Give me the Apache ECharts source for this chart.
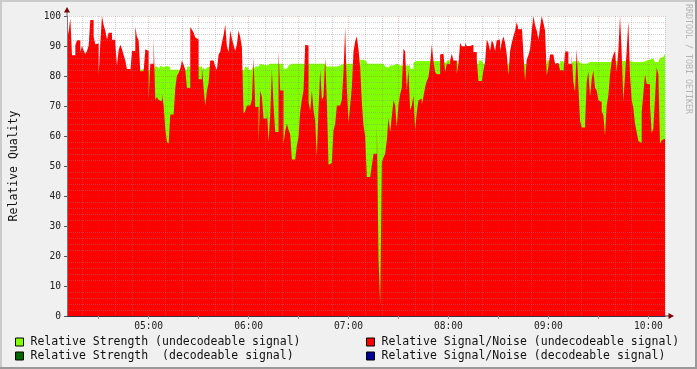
<!DOCTYPE html>
<html><head><meta charset="utf-8">
<script src="https://cdn.jsdelivr.net/npm/echarts@6/dist/echarts.min.js"></script>
<style>html,body{margin:0;padding:0;background:#F0F0F0}#c{width:697px;height:369px}</style>
</head><body><div id="c"></div>
<script>
// ---- data ----
const startTime = '04:11';           // first sample, one sample per minute
const hourLabels = ['05:00', '06:00', '07:00', '08:00', '09:00', '10:00'];
const seriesNames = [
  'Relative Strength (undecodeable signal)',
  'Relative Signal/Noise (undecodeable signal)',
  'Relative Strength  (decodeable signal)',
  'Relative Signal/Noise (decodeable signal)'
];
const seriesColors = ['#80FF00', '#FF0000', '#006600', '#000099'];

const strengthUndecodeable = [
  82,82,82,82,82,82,82,82,82,82, 82,82,82,82,82,82,82,82,82,82,
  82,82,82,82,82,82,82,82,82,82, 82,82,82,82,82,82,82.3,82.3,82,82,
  82,82,82,82,82.3,82.3,82.3,82,82,82, 82,82,82,83.3,82.8,82,83.3,83,83,83.3,

  83.2,83,82.1,82.1,82.1,82.1,82.1,82.1,82,82, 82,82,83.2,83.2,82,82,82,82,82,83.2,
  83.2,82,82.8,82.1,82.8,83.2,82,82,82,82, 82,82,82,82,82,82,82,82,82,82,
  82,82,82,82,82,82,81.3,83.2,82.8,82.1, 82.1,83.2,82,83.2,83.2,83,84,83.8,83.5,83.5,

  84.1,84.1,84.1,84.1,84.1,84.1,84.1,84.1,84.1,84.1, 82.4,82.4,83,83.5,84.1,84.1,84.1,84.1,84.1,84.1,
  84.1,84.1,84.1,84.1,84.1,84.1,84.1,84.1,84.1,84.1, 84.1,84.1,84.1,84.1,84.1,84,83.2,83.2,83.2,83.2,
  83.2,83.2,83.5,83.5,83.5,84.1,84.1,84.1,84.1,84.1, 84.1,84.1,84,84,84,84,85.4,85.4,84.8,84.8,

  84.1,84.1,84.1,84.1,84.1,84.1,84.1,84.1,84.1,84.1, 84.1,83.2,82.8,82.8,83.5,83.5,84.1,84.1,83.5,83.5,
  83.5,83.5,83.5,83.5,83.5,83.5,82.4,82.4,84.5,85, 85,85,85,85,85,85,85,85,85,85,
  85,85,85,85,84.5,84.5,84.5,84.5,85.2,85.2, 84.5,84.5,84.5,84.5,85.2,84,84,84,84,84,

  84,84,84,84,84,84,84,85.2,85.2,84.7, 84.1,84,84,84,84,84,84,84,84,84,
  84,84,84,84,84,84.3,84,84,84,84, 84,84,84,84,84,84.1,84,84,84,84,
  84,84,84,84,84,84,84,84,85.2,85, 84,84,84,84,84,84,84.9,84.9,84.9,84,

  84,84,84,84,84.9,84.9,84,85.2,84.3,84.1, 84.1,84.1,84.7,84.7,84.7,84.7,84.7,84.7,84.7,84.7,
  84.7,84.7,84.7,84.7,84.7,84.7,85.2,85,85,85, 85.2,85,85,85,85.2,85.2,85,85,85.2,84.7,
  84.7,84.7,84.7,84.7,84.7,84.7,85.2,85.2,85.5,85.5, 85.8,85.8,85.8,84.7,84.7,84.7,86,86.3,86.3,87.4
];

const snrUndecodeable = [
  92.2,95,99.2,86.9,86.9,90.2,91.9,91.9,88,90, 88.5,87.3,88.3,90.2,98.7,98.7,93,90.6,90.8,80,
  91.1,100,96.9,95.2,92.2,94.4,94.4,92.1,92.1,90.8, 83.6,88.6,90.4,89,87,85.2,82.3,82.3,81.3,88.3,
  88.3,96.5,93,92,81.6,81.6,81.6,88.9,88.3,72.2, 84.1,84.1,93.2,72,73,72,71.6,74.1,70.2,62.4,

  58.1,57.4,67.2,67.2,67.2,76,80.2,81,82.4,85.2, 83.8,82.1,76.1,76,96.3,95.4,94.5,92.8,92.2,78.9,
  78.9,83.2,76,70.2,75.2,77.7,85.2,85.2,85.2,83.2, 82.1,87.2,88.1,91.2,93.6,97.2,89.9,87.9,95.2,92.4,
  90.4,88.3,90.6,95.2,93,89.7,67.4,68.3,70.2,70.2, 70.2,72.2,86.1,69.7,69.7,57.4,75.2,73,65.8,65.8,

  69.3,58.1,67.1,82.1,70.2,61.3,61.3,88.2,75.2,75.2, 57.4,61.7,64.1,62,60.6,52.2,52.2,52.2,56.9,59.7,
  68.2,72.1,75.2,90.4,90.2,71.3,68.3,75.2,68.7,64.9, 53.3,69.1,82.1,72.1,73.2,86.1,71.6,50.4,51,51.7,
  61.9,64.1,70.2,70.2,70.2,72.1,81.3,96.1,76,64.3, 70.2,76.3,88.2,91.6,93.2,88.8,83,71.3,63.6,59.9,

  46.3,46.3,46.3,50.2,54.1,54.1,65.2,19.7,3.6,51.3, 52.8,54.1,58.6,66.1,61.3,66.6,71.9,70.2,63,70.3,
  73.9,76,89.1,88.2,75.2,82.1,68.6,70.2,73.6,62.1, 68,71.9,72.4,70.4,73.2,76.3,78.3,79.7,83.9,90.4,
  85,81.3,80.6,80.6,87.2,87.4,87.4,81.3,84.1,84, 85.2,87.4,85.2,85.2,80.6,84.1,91.1,89.9,89.9,91.1,

  90,90,90.4,90.4,88,88,85.6,78.3,78.3,78.3, 81.9,84.7,92.2,90.8,88.3,91.9,90.8,88.3,91.9,92.2,
  88.3,91.3,93.2,91.1,87.2,80.2,88.3,91.1,93.2,95.2, 98,95.6,95.6,97.2,87.4,78.3,85.6,86.9,89.1,95,
  100,96.9,95.2,92.1,96.3,100,97.7,95.2,80.2,83, 87.2,87.2,87.2,84.1,84.4,84.7,81.9,81.9,81,88.2,

  88.2,84.1,84.1,87.2,78,74.7,89.1,76.6,65.2,62.8, 62.8,64.1,78,81.6,73.2,78.9,81.9,76.1,75.2,71.9,
  71.3,68.3,66.9,60.2,70.2,73.6,80.4,85.2,87.1,88.3, 81.3,88.6,100,87.7,71.7,80.2,88.6,98.2,80.2,72.1,
  69.3,64.1,61.3,58.3,57.7,68,74.1,80.6,77.4,77.2, 70.2,61,62.4,72.7,82.8,80.6,57.4,58.6,59.1,60.2
];
const strengthDecodeable = [];
const snrDecodeable = [];

// ---- build categories (one per minute) ----
const pad = n => (n < 10 ? '0' : '') + n;
const [h0, m0] = startTime.split(':').map(Number);
const categories = snrUndecodeable.map((_, i) => {
  const t = h0 * 60 + m0 + i;
  return pad(Math.floor(t / 60)) + ':' + pad(t % 60);
});
const minuteOf = v => Number(v.split(':')[1]);

const MONO = 'DejaVu Sans Mono';
const GRID_C = 'rgba(140,140,140,0.38)';
const MGRID_C = 'rgba(160,60,60,0.28)';

const chart = echarts.init(document.getElementById('c'), null, {renderer: 'canvas'});

function areaSeries(name, color, data) {
  return {
    name, type: 'line', data, step: 'end', symbol: 'none', showSymbol: false,
    color, itemStyle: {color},
    lineStyle: {width: 0, opacity: 0},
    areaStyle: {color, opacity: 1},
    xAxisIndex: 0, yAxisIndex: 0, animation: false, silent: true
  };
}

const legendCommon = {
  padding: 0, itemWidth: 8, itemHeight: 8, icon: 'rect', selectedMode: false,
  itemStyle: {borderColor: '#000', borderWidth: 1},
  textStyle: {fontFamily: MONO, fontSize: 11.5, color: '#111', padding: [0, 0, 0, 2]}
};

chart.setOption({
  animation: false,
  backgroundColor: '#F0F0F0',
  grid: {left: 67, top: 16, width: 598, height: 300, show: true, backgroundColor: '#FFFFFF', borderWidth: 0},
  xAxis: [
    {
      type: 'category', data: categories, boundaryGap: false, z: 5,
      axisLine: {show: true, lineStyle: {color: '#333344', width: 1}},
      axisTick: {show: true, length: 3, interval: (i, v) => minuteOf(v) % 30 === 0, lineStyle: {color: '#c08080'}},
      axisLabel: {interval: (i, v) => hourLabels.indexOf(v) >= 0, margin: 5, fontFamily: MONO, fontSize: 9.6, color: '#222'},
      splitLine: {show: true, interval: (i, v) => minuteOf(v) % 30 === 0, lineStyle: {color: MGRID_C, type: [1, 1], width: 1}}
    },
    {
      type: 'category', data: categories, boundaryGap: false, z: 4, position: 'bottom',
      axisLine: {show: false}, axisTick: {show: false}, axisLabel: {show: false},
      splitLine: {show: true, interval: (i, v) => minuteOf(v) % 10 === 0 && minuteOf(v) % 30 !== 0, lineStyle: {color: GRID_C, type: [1, 1], width: 1}}
    }
  ],
  yAxis: {
    type: 'value', min: 0, max: 100, interval: 10, z: 5,
    name: 'Relative Quality', nameLocation: 'middle', nameGap: 47, nameRotate: 90,
    nameTextStyle: {fontFamily: MONO, fontSize: 11.5, color: '#111'},
    axisLine: {show: true, lineStyle: {color: '#777'}},
    axisTick: {show: true, length: 3, lineStyle: {color: '#555'}},
    axisLabel: {fontFamily: MONO, fontSize: 9.6, color: '#222', margin: 6},
    splitLine: {show: true, lineStyle: {color: MGRID_C, type: [1, 1]}},
    minorTick: {show: false, splitNumber: 5},
    minorSplitLine: {show: true, lineStyle: {color: GRID_C, type: [1, 1]}}
  },
  legend: [
    Object.assign({data: [seriesNames[0]], left: 15, top: 336}, legendCommon),
    Object.assign({data: [seriesNames[2]], left: 15, top: 350}, legendCommon),
    Object.assign({data: [seriesNames[1]], left: 366, top: 336}, legendCommon),
    Object.assign({data: [seriesNames[3]], left: 366, top: 350}, legendCommon)
  ],
  series: [
    areaSeries(seriesNames[0], seriesColors[0], strengthUndecodeable),
    areaSeries(seriesNames[1], seriesColors[1], snrUndecodeable),
    areaSeries(seriesNames[2], seriesColors[2], strengthDecodeable),
    areaSeries(seriesNames[3], seriesColors[3], snrDecodeable)
  ],
  graphic: [
    {type: 'rect', shape: {x: 0, y: 0, width: 697, height: 2}, style: {fill: '#CBCBCB'}, silent: true},
    {type: 'rect', shape: {x: 0, y: 0, width: 2, height: 369}, style: {fill: '#CBCBCB'}, silent: true},
    {type: 'rect', shape: {x: 0, y: 367, width: 697, height: 2}, style: {fill: '#999999'}, silent: true},
    {type: 'rect', shape: {x: 695, y: 0, width: 2, height: 369}, style: {fill: '#999999'}, silent: true},
    {type: 'line', shape: {x1: 67, y1: 16, x2: 67, y2: 12}, style: {stroke: '#777', lineWidth: 1}, silent: true},
    {type: 'polygon', shape: {points: [[64, 12.5], [70, 12.5], [67, 7]]}, style: {fill: '#7F0000'}, silent: true},
    {type: 'line', shape: {x1: 665, y1: 316, x2: 669, y2: 316}, style: {stroke: '#333344', lineWidth: 1}, silent: true},
    {type: 'polygon', shape: {points: [[668.5, 313], [668.5, 319], [674, 316]]}, style: {fill: '#7F0000'}, silent: true},
    {type: 'text', x: 684.5, y: 4, rotation: -Math.PI / 2,
     style: {text: 'RRDTOOL / TOBI OETIKER', font: '8.3px "DejaVu Sans Mono"', fill: '#B4B4B4', textAlign: 'left', textVerticalAlign: 'bottom'}, silent: true}
  ]
});
</script>
</body></html>
